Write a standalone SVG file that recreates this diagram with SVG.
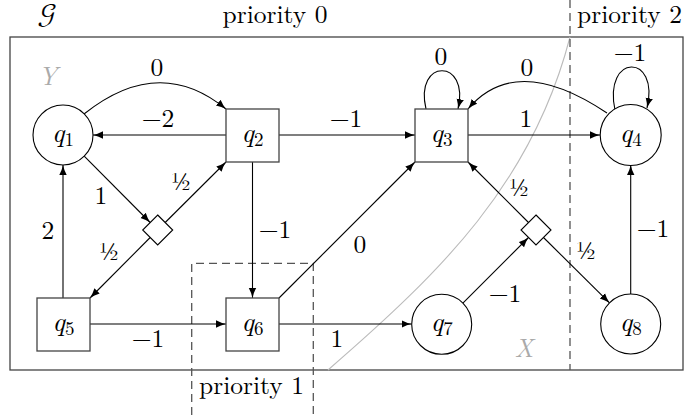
<svg xmlns="http://www.w3.org/2000/svg" width="684" height="415" viewBox="0 0 684 415">
<defs>
<marker id="ah" markerWidth="12" markerHeight="9" refX="10" refY="4" orient="auto" markerUnits="userSpaceOnUse"><path d="M0,0.3 Q5,3 10,4 Q5,5 0,7.7 z" fill="#000"/></marker>
</defs>
<style>
text{font-family:'Latin Modern Roman','DejaVu Serif',serif}
.t{font-size:25.5px;fill:#000;text-anchor:middle}
.q{font-size:27px}
.i{font-style:italic}
.s{font-size:19px}
.g{fill:#aaa}
.e{fill:none;stroke:#000;stroke-width:1.1;marker-end:url(#ah)}
.sq{fill:#fff;stroke:#444;stroke-width:1.3}
.ci{fill:#fff;stroke:#000;stroke-width:1.1}
.dm{fill:#fff;stroke:#000;stroke-width:1.1}
.dash{fill:none;stroke:#555;stroke-width:1.3;stroke-dasharray:8,5}
.frame{fill:none;stroke:#444;stroke-width:1.3}
.fr{font-size:24px}
.cal{font-family:'Latin Modern Math','DejaVu Serif',serif;font-size:28px}
</style>
<rect class="frame" x="10" y="37" width="673" height="333"/>
<path d="M570,37 C532.5,182.5 441.4,271.75 328,370" fill="none" stroke="#bbb" stroke-width="1.1"/>
<path class="dash" d="M570,0 V370"/>
<path class="dash" d="M191.7,415 V263.3 H313.3 V415"/>
<text class="t cal" x="47" y="23">𝒢</text>
<text class="t" x="275" y="23">priority 0</text>
<text class="t" x="629.5" y="23">priority 2</text>
<text class="t" x="251.5" y="394">priority 1</text>
<text class="t i g" x="48" y="85">Y</text>
<text class="t i g" x="524" y="357">X</text>
<g id="edges">
<path class="e" d="M84,114 Q159,54 226,109"/>
<path class="e" d="M226,135 H93"/>
<path class="e" d="M279,135 H415"/>
<path class="e" d="M468,135 H600"/>
<path class="e" d="M607,113 Q516,52 468,109"/>
<path class="e" d="M426,109 C414,58 470,58 458,109"/>
<path class="e" d="M615,110 C603,53 660,53 647,108"/>
<path class="e" d="M84.2,156.2 L150.2,222.5"/>
<path class="e" d="M165.2,222.5 L226,162"/>
<path class="e" d="M150.2,237.5 L90,298"/>
<path class="e" d="M63,298 V165"/>
<path class="e" d="M252.5,162 V298"/>
<path class="e" d="M90,324 H226"/>
<path class="e" d="M279,298 L415,162"/>
<path class="e" d="M279,324 H411.7"/>
<path class="e" d="M462.9,303.1 L528.5,237.5"/>
<path class="e" d="M528.5,222.5 L468,162"/>
<path class="e" d="M543.5,237.5 L609.5,302.8"/>
<path class="e" d="M630.7,294 V165"/>
</g>
<g id="edge-labels">
<text class="t" x="157" y="76">0</text>
<text class="t" x="158" y="127">−2</text>
<text class="t" x="346" y="127">−1</text>
<text class="t" x="526" y="127">1</text>
<text class="t" x="527" y="76">0</text>
<text class="t" x="441" y="65">0</text>
<text class="t" x="630" y="61">−1</text>
<text class="t" x="101" y="204">1</text>
<text class="t fr" x="181" y="190">½</text>
<text class="t fr" x="109" y="260">½</text>
<text class="t" x="48" y="239">2</text>
<text class="t" x="275" y="238">−1</text>
<text class="t" x="148" y="347">−1</text>
<text class="t" x="337" y="347">1</text>
<text class="t" x="360" y="253">0</text>
<text class="t" x="505" y="302">−1</text>
<text class="t fr" x="519" y="196">½</text>
<text class="t fr" x="586" y="259">½</text>
<text class="t" x="653" y="237">−1</text>
</g>
<g id="q1"><circle class="ci" cx="63" cy="135" r="30"/><text class="t q" x="63" y="142"><tspan class="i">q</tspan><tspan class="s" dy="4">1</tspan></text></g>
<g id="q2"><rect class="sq" x="226" y="109" width="53" height="53"/><text class="t q" x="252.5" y="142"><tspan class="i">q</tspan><tspan class="s" dy="4">2</tspan></text></g>
<g id="q3"><rect class="sq" x="415" y="109" width="53" height="53"/><text class="t q" x="441.5" y="142"><tspan class="i">q</tspan><tspan class="s" dy="4">3</tspan></text></g>
<g id="q4"><circle class="ci" cx="630.7" cy="135" r="30.5"/><text class="t q" x="630.7" y="142"><tspan class="i">q</tspan><tspan class="s" dy="4">4</tspan></text></g>
<g id="q5"><rect class="sq" x="37" y="298" width="53" height="53"/><text class="t q" x="63.5" y="331"><tspan class="i">q</tspan><tspan class="s" dy="4">5</tspan></text></g>
<g id="q6"><rect class="sq" x="226" y="298" width="53" height="53"/><text class="t q" x="252.5" y="331"><tspan class="i">q</tspan><tspan class="s" dy="4">6</tspan></text></g>
<g id="q7"><circle class="ci" cx="441.7" cy="324.3" r="30"/><text class="t q" x="441.7" y="331"><tspan class="i">q</tspan><tspan class="s" dy="4">7</tspan></text></g>
<g id="q8"><circle class="ci" cx="630.7" cy="324" r="30"/><text class="t q" x="630.7" y="331"><tspan class="i">q</tspan><tspan class="s" dy="4">8</tspan></text></g>
<g id="d1"><polygon class="dm" points="157.7,215 172.7,230 157.7,245 142.7,230"/></g>
<g id="d2"><polygon class="dm" points="536,215 551,230 536,245 521,230"/></g>
</svg>
